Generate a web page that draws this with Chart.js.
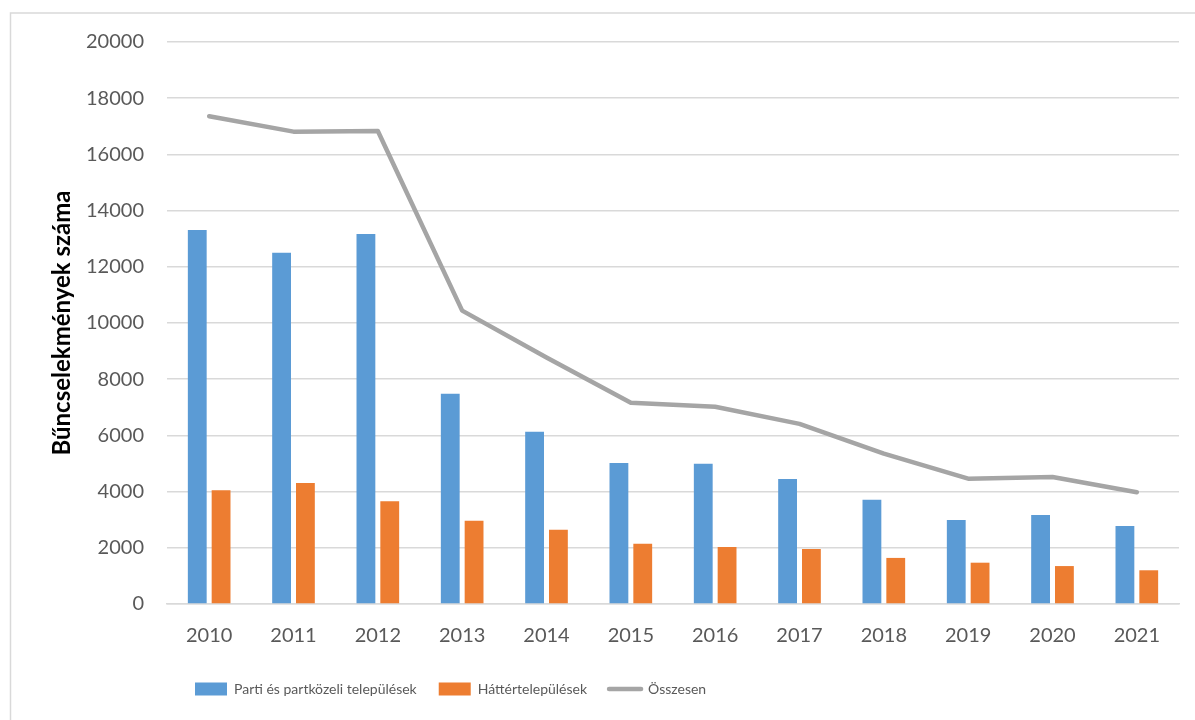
<!DOCTYPE html>
<html>
<head>
<meta charset="utf-8">
<script src="https://cdn.jsdelivr.net/npm/chart.js@4/dist/chart.umd.min.js"></script>
<style>
  html, body { margin: 0; padding: 0; background: #fff; }
  #wrap { width: 1195px; height: 720px; position: relative; }
</style>
</head>
<body>
<div id="wrap"><canvas id="crimeChart" width="1195" height="720"></canvas></div>
<script>
// data
const years = ['2010', '2011', '2012', '2013', '2014', '2015', '2016', '2017', '2018', '2019', '2020', '2021'];
const parti = [13310, 12500, 13170, 7480, 6130, 5020, 4990, 4450, 3710, 2990, 3170, 2780];
const hatter = [4050, 4310, 3660, 2960, 2640, 2140, 2030, 1960, 1640, 1470, 1350, 1200];
const osszesen = [17360, 16810, 16830, 10440, 8770, 7160, 7020, 6410, 5350, 4460, 4520, 3980];
const yTicks = { min: 0, max: 20000, step: 2000 };

const gridGray = '#d9d9d9';
const textGray = '#595959';

// light frame around the figure like the Excel chart area
const frame = {
  id: 'frame',
  beforeDraw(chart) {
    const ctx = chart.ctx;
    ctx.save();
    ctx.fillStyle = '#fff';
    ctx.fillRect(0, 0, chart.width, chart.height);
    ctx.strokeStyle = gridGray;
    ctx.lineWidth = 1.5;
    ctx.strokeRect(10.5, 13, chart.width + 10, chart.height + 10);
    ctx.restore();
    // the legend sits left of centre in the original
    if (chart.legend) chart.legend.left = 173;
  }
};

new Chart(document.getElementById('crimeChart'), {
  type: 'bar',
  data: {
    labels: years,
    datasets: [
      {
        label: 'Parti és partközeli települések',
        data: parti,
        backgroundColor: '#5b9bd5',
        categoryPercentage: 0.565,
        barPercentage: 0.79
      },
      {
        label: 'Háttértelepülések',
        data: hatter,
        backgroundColor: '#ed7d31',
        categoryPercentage: 0.565,
        barPercentage: 0.79
      },
      {
        type: 'line',
        label: 'Összesen',
        data: osszesen,
        borderColor: '#a5a5a5',
        backgroundColor: '#a5a5a5',
        borderWidth: 4.5,
        borderCapStyle: 'round',
        borderJoinStyle: 'round',
        pointRadius: 0,
        tension: 0
      }
    ]
  },
  options: {
    responsive: false,
    animation: false,
    layout: { padding: { top: 42, right: 16, bottom: 14, left: 0 } },
    plugins: {
      tooltip: { enabled: false },
      legend: {
        position: 'bottom',
        align: 'start',
        labels: {
          font: { family: 'Lato', size: 14 },
          color: textGray,
          usePointStyle: true,
          pointStyleWidth: 32,
          boxHeight: 13,
          padding: 22,
          generateLabels(chart) {
            const items = Chart.defaults.plugins.legend.labels.generateLabels(chart);
            items.forEach(it => {
              if (it.datasetIndex === 2) {
                it.pointStyle = 'line';
                it.lineWidth = 4.5;
                it.lineCap = 'round';
              } else {
                it.pointStyle = 'rect';
                it.lineWidth = 0;
              }
            });
            return items;
          }
        }
      }
    },
    scales: {
      x: {
        grid: { display: false },
        border: { display: true, color: gridGray, width: 1.5 },
        ticks: { font: { family: 'Lato', size: 20 }, color: textGray, padding: 12 },
        afterFit(scale) { scale.height = 56; }
      },
      y: {
        min: yTicks.min,
        max: yTicks.max,
        grid: { color: gridGray, lineWidth: 1.5, drawTicks: false },
        border: { display: false },
        ticks: {
          stepSize: yTicks.step,
          font: { family: 'Lato', size: 20 },
          color: textGray,
          padding: 23,
          callback: v => String(v)
        },
        title: {
          display: true,
          text: 'Bűncselekmények száma',
          font: { family: 'Lato', size: 24, weight: 'bold' },
          color: '#000',
          padding: { top: 48, bottom: 0 }
        },
        afterFit(scale) { scale.width = 167; }
      }
    }
  },
  plugins: [frame]
});
</script>
</body>
</html>
